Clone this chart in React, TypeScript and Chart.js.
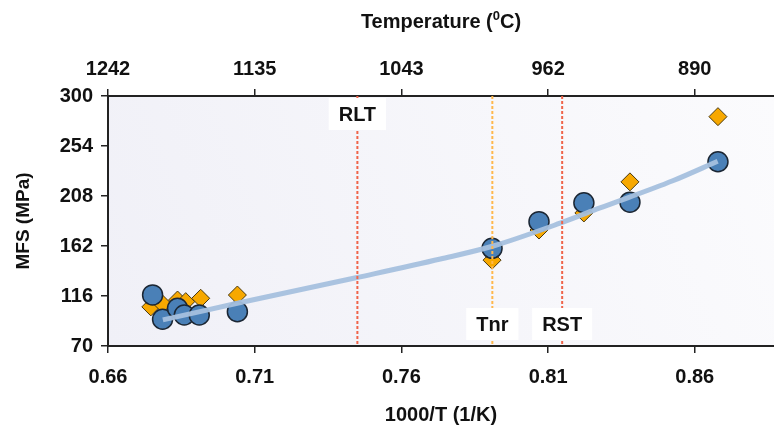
import React, { useEffect, useRef } from "react";
import { Chart, registerables } from "chart.js";

Chart.register(...registerables);

// ---- data ----
const xTicks = [0.66, 0.71, 0.76, 0.81, 0.86];
const tempLabels = ["1242", "1135", "1043", "962", "890"];
const yTicks = [70, 116, 162, 208, 254, 300];

const circleX = [0.6752, 0.6786, 0.6837, 0.686, 0.6911, 0.7041, 0.7909, 0.8069, 0.8222, 0.8379, 0.8679];
const circleY = [117, 94.6, 104.7, 98.5, 98.5, 101.6, 159.9, 184.4, 201.8, 202.3, 239.5];

const diamondX = [0.6746, 0.6786, 0.6837, 0.6865, 0.6916, 0.7041, 0.7909, 0.8069, 0.8222, 0.8379, 0.8679];
const diamondY = [106, 108.6, 112.3, 110.8, 113.9, 116.9, 149, 176.7, 192.4, 221, 281];

const fitX = [0.6787, 0.7052, 0.7449, 0.7733, 0.7913, 0.8141, 0.8277, 0.8525, 0.8678];
const fitY = [94, 110, 133, 150, 162, 183, 197, 222, 240];

const markerNames = ["RLT", "Tnr", "RST"];
const markerX = [0.745, 0.791, 0.8148];
const markerLabelAtTop = [true, false, false];
const markerColors = ["#f0644a", "#ffb84d", "#f0644a"];

const X_MIN = 0.66;
const X_MAX = 0.887;
const Y_MIN = 70;
const Y_MAX = 300;

const FONT = "'Liberation Sans', Arial, sans-serif";
const TXT = "#111111";

const pts = (xs: number[], ys: number[]) => xs.map((x, i) => ({ x, y: ys[i] }));

const bgPlugin = {
  id: "bgPlugin",
  beforeDraw(chart: any) {
    const { ctx, chartArea } = chart;
    if (!chartArea) return;
    const { left, top, right, bottom } = chartArea;
    ctx.save();
    const g = ctx.createLinearGradient(left, bottom, right, top);
    g.addColorStop(0, "#f0f0f7");
    g.addColorStop(1, "#fbfbfd");
    ctx.fillStyle = g;
    ctx.fillRect(left, top, right - left, bottom - top);
    ctx.restore();
  },
};

const overlayPlugin = {
  id: "overlayPlugin",
  afterDatasetsDraw(chart: any) {
    const { ctx, chartArea, scales } = chart;
    const { top, bottom } = chartArea;
    ctx.save();
    markerX.forEach((v, i) => {
      const px = scales.x.getPixelForValue(v);
      ctx.beginPath();
      ctx.setLineDash([3, 2]);
      ctx.strokeStyle = markerColors[i];
      ctx.lineWidth = 2;
      ctx.moveTo(px, top);
      ctx.lineTo(px, bottom);
      ctx.stroke();
      ctx.setLineDash([]);
      ctx.font = `bold 20px ${FONT}`;
      const w = ctx.measureText(markerNames[i]).width + 20;
      const h = 32;
      const by = markerLabelAtTop[i] ? top + 2 : bottom - 6 - h;
      ctx.fillStyle = "#ffffff";
      ctx.fillRect(px - w / 2, by, w, h);
      ctx.fillStyle = TXT;
      ctx.textAlign = "center";
      ctx.textBaseline = "middle";
      ctx.fillText(markerNames[i], px, by + h / 2 + 1);
    });
    ctx.restore();
  },
  afterDraw(chart: any) {
    const { ctx, chartArea } = chart;
    const cx = (chartArea.left + chartArea.right) / 2;
    const y = 22;
    ctx.save();
    ctx.fillStyle = TXT;
    ctx.textBaseline = "middle";
    ctx.textAlign = "left";
    const big = `bold 20px ${FONT}`;
    const small = `bold 13px ${FONT}`;
    const a = "Temperature (";
    const b = "0";
    const c = "C)";
    ctx.font = big;
    const wa = ctx.measureText(a).width;
    const wc = ctx.measureText(c).width;
    ctx.font = small;
    const wb = ctx.measureText(b).width;
    let x = cx - (wa + wb + wc) / 2;
    ctx.font = big;
    ctx.fillText(a, x, y);
    x += wa;
    ctx.font = small;
    ctx.fillText(b, x, y - 6);
    x += wb;
    ctx.font = big;
    ctx.fillText(c, x, y);
    ctx.restore();
  },
};

export default function App() {
  const ref = useRef<HTMLCanvasElement | null>(null);

  useEffect(() => {
    document.body.style.margin = "0";
    const canvas = ref.current;
    if (!canvas) return;
    const tickFont = { family: FONT, size: 20, weight: "bold" as const };
    const gridCommon = { drawOnChartArea: false, tickLength: 7, color: "#222", lineWidth: 1.5 };
    const border = { display: true, color: "#222", width: 2 };

    const chart = new Chart(canvas, {
      type: "scatter",
      data: {
        datasets: [
          {
            type: "line",
            label: "fit",
            data: pts(fitX, fitY),
            borderColor: "rgba(165,192,222,0.95)",
            borderWidth: 5,
            pointRadius: 0,
            showLine: true,
            cubicInterpolationMode: "monotone",
            fill: false,
            order: 0,
          } as any,
          {
            label: "circles",
            data: pts(circleX, circleY),
            pointStyle: "circle",
            pointRadius: 10,
            backgroundColor: "#4a80b7",
            borderColor: "#1b2633",
            borderWidth: 1.5,
            order: 1,
          },
          {
            label: "diamonds",
            data: pts(diamondX, diamondY),
            pointStyle: "rectRot",
            pointRadius: 9,
            backgroundColor: "#f7a800",
            borderColor: "#4a3a10",
            borderWidth: 1,
            order: 2,
          },
        ],
      },
      options: {
        animation: false,
        responsive: false,
        devicePixelRatio: 1,
        layout: { padding: 0, autoPadding: false },
        plugins: { legend: { display: false }, tooltip: { enabled: false } },
        scales: {
          x: {
            type: "linear",
            position: "bottom",
            min: X_MIN,
            max: X_MAX,
            afterBuildTicks: (s: any) => {
              s.ticks = xTicks.map((v) => ({ value: v }));
            },
            afterFit: (s: any) => {
              s.height = 89;
              s.paddingRight = 0;
              s.paddingLeft = 0;
            },
            ticks: {
              font: tickFont,
              color: TXT,
              padding: 12,
              maxRotation: 0,
              callback: (v: any) => Number(v).toFixed(2),
            },
            grid: gridCommon,
            border,
            title: {
              display: true,
              text: "1000/T (1/K)",
              font: { family: FONT, size: 20, weight: "bold" },
              color: TXT,
              padding: { top: 0, bottom: 8 },
            },
          },
          x2: {
            type: "linear",
            position: "top",
            min: X_MIN,
            max: X_MAX,
            afterBuildTicks: (s: any) => {
              s.ticks = xTicks.map((v) => ({ value: v }));
            },
            afterFit: (s: any) => {
              s.height = 96;
              s.paddingRight = 0;
              s.paddingLeft = 0;
            },
            ticks: {
              font: tickFont,
              color: TXT,
              padding: 8,
              maxRotation: 0,
              callback: (v: any) => {
                const i = xTicks.findIndex((t) => Math.abs(t - Number(v)) < 1e-6);
                return i >= 0 ? tempLabels[i] : "";
              },
            },
            grid: gridCommon,
            border,
          },
          y: {
            type: "linear",
            position: "left",
            min: Y_MIN,
            max: Y_MAX,
            afterBuildTicks: (s: any) => {
              s.ticks = yTicks.map((v) => ({ value: v }));
            },
            afterFit: (s: any) => {
              s.width = 108;
            },
            ticks: { font: tickFont, color: TXT, padding: 8 },
            grid: gridCommon,
            border,
            title: {
              display: true,
              text: "MFS (MPa)",
              font: { family: FONT, size: 19, weight: "bold" },
              color: TXT,
              padding: { top: 12, bottom: 0 },
            },
          },
        },
      },
      plugins: [bgPlugin, overlayPlugin],
    });
    return () => chart.destroy();
  }, []);

  return <canvas ref={ref} width={774} height={435} style={{ display: "block", width: 774, height: 435 }} />;
}
